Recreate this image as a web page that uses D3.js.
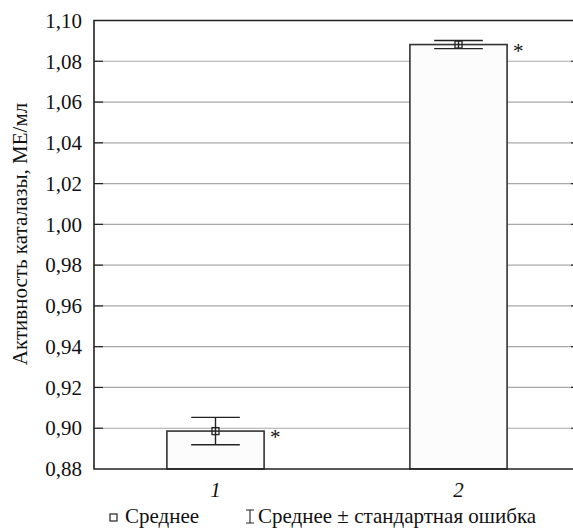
<!DOCTYPE html>
<html>
<head>
<meta charset="utf-8">
<script src="https://cdn.jsdelivr.net/npm/d3@7"></script>
<style>
  html, body { margin: 0; padding: 0; background: #fff; }
  svg { display: block; }
</style>
</head>
<body>
<svg id="chart" width="573" height="530"></svg>
<script>
// Catalase activity, mean ± standard error per group
const groups = ["1", "2"];
const means = [0.8986, 1.0882];
const stdErrors = [0.0067, 0.0020];
const marks = ["*", "*"];
const yTicks = [0.88, 0.90, 0.92, 0.94, 0.96, 0.98, 1.00, 1.02, 1.04, 1.06, 1.08, 1.10];
const yTitle = "Активность каталазы, МЕ/мл";
const legendMean = "Среднее";
const legendError = "Среднее ± стандартная ошибка";

const FONT = '"Liberation Serif"';
const FS = 21;

const svg = d3.select("#chart");
const margin = { top: 20.5, right: -7, bottom: 61, left: 94 };
const width = 573 - margin.left - margin.right;
const height = 530 - margin.top - margin.bottom;

const g = svg.append("g").attr("transform", `translate(${margin.left},${margin.top})`);

const x = d3.scaleBand().domain(groups).range([0, width]).paddingInner(0.6).paddingOuter(0.3);
const y = d3.scaleLinear().domain([0.88, 1.10]).range([height, 0]);

const fmt = v => d3.format(".2f")(v).replace(".", ",");

// horizontal grid lines
g.append("g")
  .selectAll("line")
  .data(yTicks.slice(1, -1))
  .join("line")
  .attr("x1", 0).attr("x2", width)
  .attr("y1", d => y(d)).attr("y2", d => y(d))
  .attr("stroke", "#a8a8a8").attr("stroke-width", 1.2);

// inward tick marks on both sides
const tickLen = 9;
g.append("g").selectAll("line").data(yTicks.slice(1, -1)).join("line")
  .attr("x1", 0).attr("x2", tickLen)
  .attr("y1", d => y(d)).attr("y2", d => y(d))
  .attr("stroke", "#222").attr("stroke-width", 1.2);
g.append("g").selectAll("line").data(yTicks.slice(1, -1)).join("line")
  .attr("x1", width - tickLen).attr("x2", width)
  .attr("y1", d => y(d)).attr("y2", d => y(d))
  .attr("stroke", "#222").attr("stroke-width", 1.2);

// y axis labels
const yAxis = d3.axisLeft(y).tickValues(yTicks).tickFormat(fmt).tickSize(0).tickPadding(12);
const ya = g.append("g").call(yAxis);
ya.attr("font-family", null).attr("font-size", null);
ya.select(".domain").remove();
ya.selectAll("text")
  .style("font-family", FONT)
  .attr("font-size", FS)
  .attr("fill", "#111");

// bars
g.append("g").selectAll("rect").data(groups).join("rect")
  .attr("x", d => x(d))
  .attr("y", (d, i) => y(means[i]))
  .attr("width", x.bandwidth())
  .attr("height", (d, i) => height - y(means[i]))
  .attr("fill", "#fcfcfc")
  .attr("stroke", "#333")
  .attr("stroke-width", 1.6);

// frame
g.append("path")
  .attr("d", `M0,${height}V0H${width}V${height}Z`)
  .attr("fill", "none").attr("stroke", "#222").attr("stroke-width", 1.6);

// error bars and mean markers
const eb = g.append("g");
groups.forEach((d, i) => {
  const cx = x(d) + x.bandwidth() / 2;
  const hw = x.bandwidth() / 4;
  const yHi = y(means[i] + stdErrors[i]);
  const yLo = y(means[i] - stdErrors[i]);
  const ym = y(means[i]);
  eb.append("line").attr("x1", cx).attr("x2", cx).attr("y1", yHi).attr("y2", yLo)
    .attr("stroke", "#222").attr("stroke-width", 1.4);
  [yHi, yLo].forEach(yy => {
    eb.append("line").attr("x1", cx - hw).attr("x2", cx + hw).attr("y1", yy).attr("y2", yy)
      .attr("stroke", "#222").attr("stroke-width", 1.4);
  });
  eb.append("rect").attr("x", cx - 3.5).attr("y", ym - 3.5).attr("width", 7).attr("height", 7)
    .attr("fill", "none").attr("stroke", "#222").attr("stroke-width", 1.3);
  eb.append("text")
    .attr("x", x(d) + x.bandwidth() + 6)
    .attr("y", ym + 13)
    .style("font-family", FONT)
    .attr("font-size", FS)
    .attr("fill", "#111")
    .text(marks[i]);
});

// x category labels
g.append("g").selectAll("text").data(groups).join("text")
  .attr("x", d => x(d) + x.bandwidth() / 2)
  .attr("y", height + 28)
  .attr("text-anchor", "middle")
  .style("font-family", FONT)
  .attr("font-style", "italic")
  .attr("font-size", FS)
  .attr("fill", "#111")
  .text(d => d);

// y title
svg.append("text")
  .attr("transform", `translate(27,234) rotate(-90)`)
  .attr("text-anchor", "middle")
  .style("font-family", FONT)
  .attr("font-size", FS)
  .attr("fill", "#111")
  .text(yTitle);

// legend
const lg = svg.append("g").attr("transform", "translate(0,523)");
lg.append("rect").attr("x", 110).attr("y", -9).attr("width", 7).attr("height", 7)
  .attr("fill", "none").attr("stroke", "#222").attr("stroke-width", 1.2);
lg.append("text").attr("x", 125).attr("y", 0)
  .style("font-family", FONT).attr("font-size", FS).attr("fill", "#111")
  .text(legendMean);
const ix = 250;
lg.append("path")
  .attr("d", `M${ix - 4},-13H${ix + 4}M${ix},-13V0M${ix - 4},0H${ix + 4}`)
  .attr("stroke", "#222").attr("stroke-width", 1.1).attr("fill", "none");
lg.append("text").attr("x", 258).attr("y", 0)
  .style("font-family", FONT).attr("font-size", FS).attr("fill", "#111")
  .text(legendError);
</script>
</body>
</html>
